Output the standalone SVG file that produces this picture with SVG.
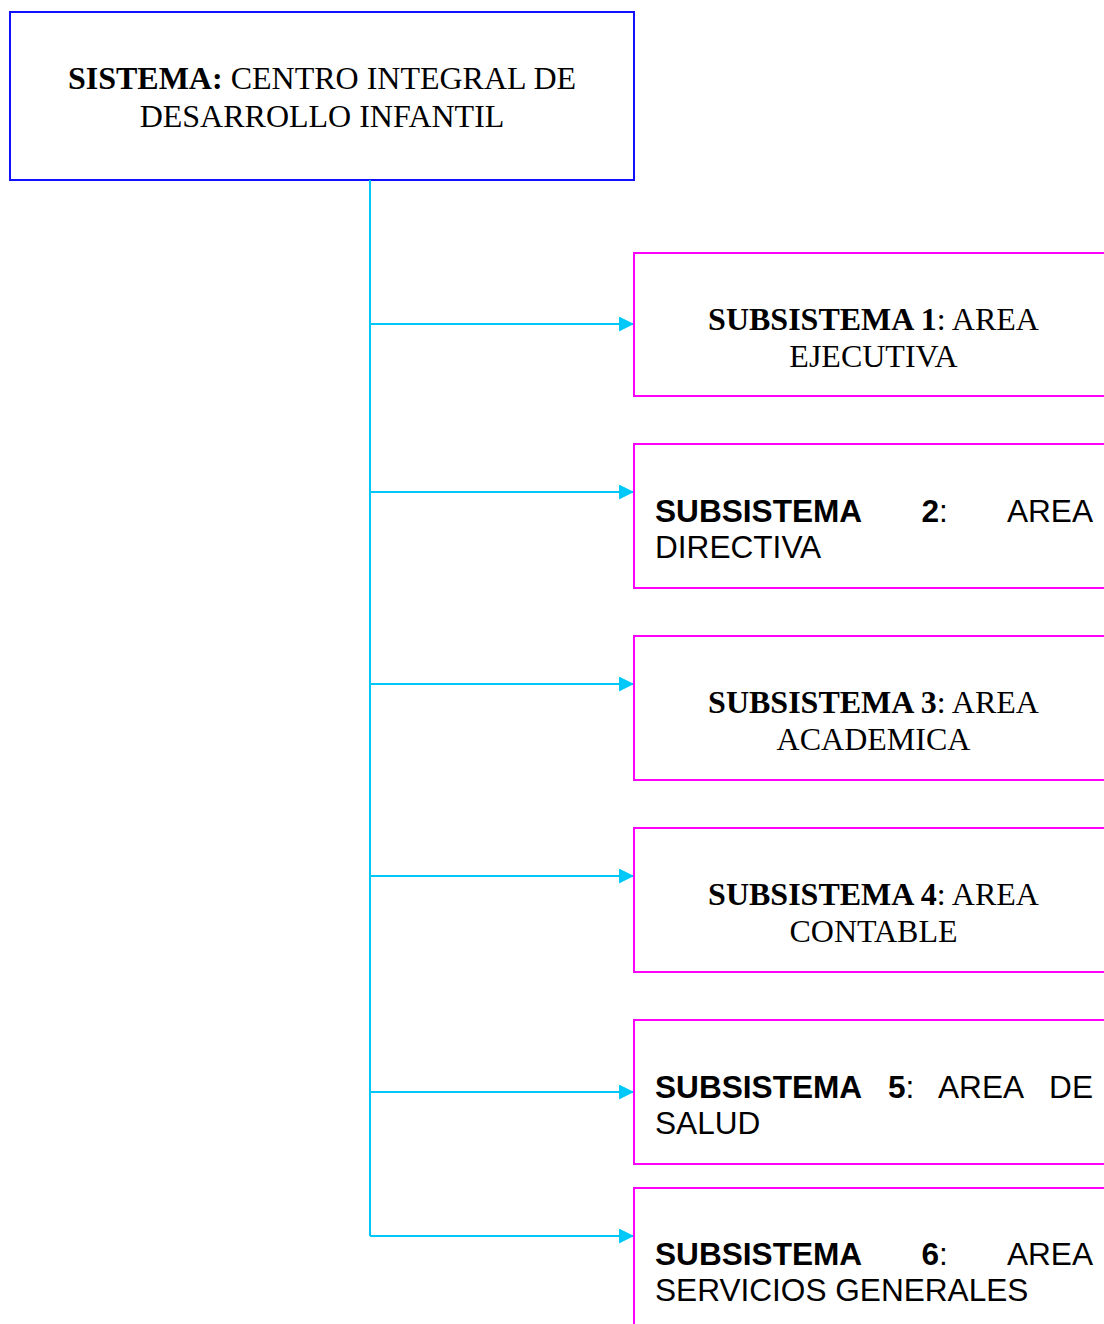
<svg xmlns="http://www.w3.org/2000/svg" width="1104" height="1324" viewBox="0 0 1104 1324">
<style>
.main{fill:#fff;stroke:#1010ff;stroke-width:2}
.sub{fill:#fff;stroke:#ff00ff;stroke-width:2}
.serif{font-family:"Liberation Serif","Times New Roman",serif;font-size:32px;fill:#000}
.sans{font-family:"Liberation Sans",Arial,sans-serif;font-size:31.6px;fill:#000}
.b{font-weight:bold}
.conn{fill:none;stroke:#00c8f8;stroke-width:2}
</style>
<defs>
<marker id="arr" markerWidth="16" markerHeight="16" refX="15" refY="7.5" orient="auto" markerUnits="userSpaceOnUse">
<path d="M0,0 L15,7.5 L0,15 Z" fill="#00c8f8"/>
</marker>
</defs>
<rect width="1104" height="1324" fill="#fff"/>
<g id="sistema">
<rect class="main" x="10" y="12" width="624" height="168"/>
<text class="serif" x="322" y="88.5" text-anchor="middle"><tspan class="b">SISTEMA:</tspan> CENTRO INTEGRAL DE</text>
<text class="serif" x="322" y="127" text-anchor="middle">DESARROLLO INFANTIL</text>
</g>
<g id="connectors">
<path class="conn" d="M370,180 V1236"/>
<path class="conn" d="M370,324 H634" marker-end="url(#arr)"/>
<path class="conn" d="M370,492 H634" marker-end="url(#arr)"/>
<path class="conn" d="M370,684 H634" marker-end="url(#arr)"/>
<path class="conn" d="M370,876 H634" marker-end="url(#arr)"/>
<path class="conn" d="M370,1092 H634" marker-end="url(#arr)"/>
<path class="conn" d="M370,1236 H634" marker-end="url(#arr)"/>
</g>
<g id="sub1">
<rect class="sub" x="634" y="253" width="480" height="143"/>
<text class="serif" x="873.5" y="330" text-anchor="middle"><tspan class="b">SUBSISTEMA 1</tspan>: AREA</text>
<text class="serif" x="873.5" y="367" text-anchor="middle">EJECUTIVA</text>
</g>
<g id="sub2">
<rect class="sub" x="634" y="444" width="480" height="144"/>
<text class="sans b" x="655" y="521.5">SUBSISTEMA</text>
<text class="sans" x="921.5" y="521.5"><tspan class="b">2</tspan>:</text>
<text class="sans" x="1093" y="521.5" text-anchor="end">AREA</text>
<text class="sans" x="655" y="558">DIRECTIVA</text>
</g>
<g id="sub3">
<rect class="sub" x="634" y="636" width="480" height="144"/>
<text class="serif" x="873.5" y="713" text-anchor="middle"><tspan class="b">SUBSISTEMA 3</tspan>: AREA</text>
<text class="serif" x="873.5" y="750" text-anchor="middle">ACADEMICA</text>
</g>
<g id="sub4">
<rect class="sub" x="634" y="828" width="480" height="144"/>
<text class="serif" x="873.5" y="905" text-anchor="middle"><tspan class="b">SUBSISTEMA 4</tspan>: AREA</text>
<text class="serif" x="873.5" y="942" text-anchor="middle">CONTABLE</text>
</g>
<g id="sub5">
<rect class="sub" x="634" y="1020" width="480" height="144"/>
<text class="sans b" x="655" y="1097.5">SUBSISTEMA</text>
<text class="sans" x="888" y="1097.5"><tspan class="b">5</tspan>:</text>
<text class="sans" x="938" y="1097.5">AREA</text>
<text class="sans" x="1093" y="1097.5" text-anchor="end">DE</text>
<text class="sans" x="655" y="1134">SALUD</text>
</g>
<g id="sub6">
<rect class="sub" x="634" y="1188" width="480" height="150"/>
<text class="sans b" x="655" y="1265">SUBSISTEMA</text>
<text class="sans" x="921.5" y="1265"><tspan class="b">6</tspan>:</text>
<text class="sans" x="1093" y="1265" text-anchor="end">AREA</text>
<text class="sans" x="655" y="1301">SERVICIOS GENERALES</text>
</g>
</svg>
